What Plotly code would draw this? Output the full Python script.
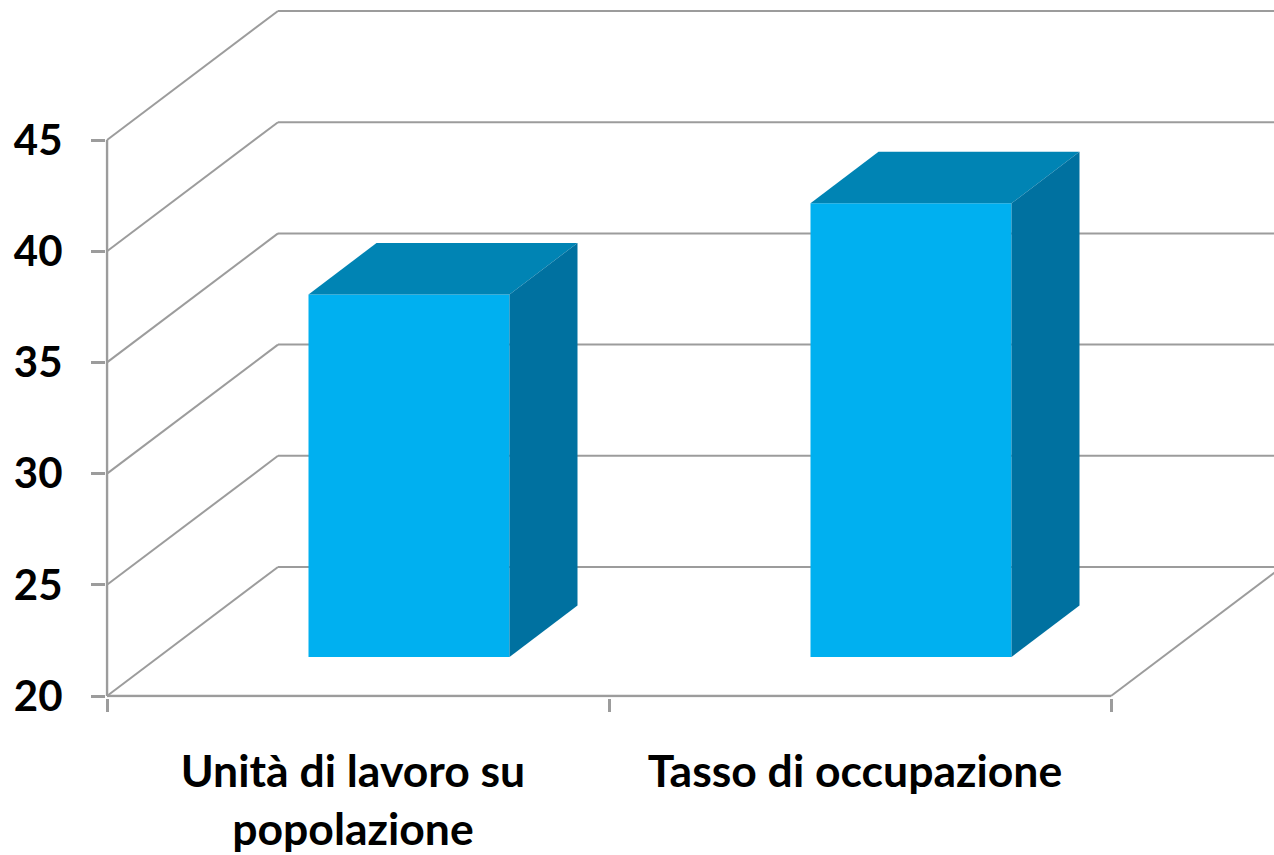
import plotly.graph_objects as go

categories = ["Unità di lavoro su<br>popolazione", "Tasso di occupazione"]
values = [36.3, 40.4]
y_ticks = [20, 25, 30, 35, 40, 45]

W, H = 1274, 855
PX_X = 502.0           # pixels per category
PX_Y = 111.2 / 5       # pixels per value unit
X0, Y0 = 107, 696      # pixel position of the axes corner
PAD = 1.5              # room so the axis lines are not clipped

def dx(px): return px / PX_X
def dy(px): return px / PX_Y

FLOOR_X, FLOOR_Y = dx(171), dy(129)
FX, FY = dx(51), dy(39)
DX, DY = dx(68), dy(51.5)
BAR_W = dx(201)
GRID = "#9c9c9c"
FRONT, TOP, SIDE = "#00b0f0", "#0084b4", "#0071a0"

x_max = (W - X0) / PX_X
y_max = 20 + Y0 / PX_Y

fig = go.Figure()

shapes = [
    dict(type="line", xref="x", yref="y", layer="below",
         x0=0, y0=y_ticks[0], x1=0, y1=y_ticks[-1], line=dict(color=GRID, width=2.5)),
    dict(type="line", xref="x", yref="y", layer="below",
         x0=0, y0=y_ticks[0], x1=len(categories), y1=y_ticks[0], line=dict(color=GRID, width=2.5)),
]
for v in y_ticks:
    shapes.append(dict(type="line", xref="x", yref="y", layer="below",
                       x0=0, y0=v, x1=FLOOR_X, y1=v + FLOOR_Y,
                       line=dict(color=GRID, width=2)))
    shapes.append(dict(type="line", xref="x", yref="y", layer="below",
                       x0=FLOOR_X, y0=v + FLOOR_Y, x1=x_max, y1=v + FLOOR_Y,
                       line=dict(color=GRID, width=2)))
shapes.append(dict(type="line", xref="x", yref="y", layer="below",
                   x0=len(categories), y0=20,
                   x1=len(categories) + FLOOR_X, y1=20 + FLOOR_Y,
                   line=dict(color=GRID, width=2)))

centers = [i + 0.5 + FX for i in range(len(values))]
base = 20 + FY

fig.add_trace(go.Bar(x=centers, y=[v - 20 for v in values], base=base, width=BAR_W,
                     marker=dict(color=FRONT, line=dict(width=0)),
                     hoverinfo="skip", showlegend=False))

for c, v in zip(centers, values):
    l, r = c - BAR_W / 2, c + BAR_W / 2
    t = base + v - 20
    fig.add_trace(go.Scatter(x=[l, r, r + DX, l + DX, l], y=[t, t, t + DY, t + DY, t],
                             mode="lines", fill="toself", fillcolor=TOP,
                             line=dict(width=0), hoverinfo="skip", showlegend=False))
    fig.add_trace(go.Scatter(x=[r, r + DX, r + DX, r, r],
                             y=[base, base + DY, t + DY, t, base],
                             mode="lines", fill="toself", fillcolor=SIDE,
                             line=dict(width=0), hoverinfo="skip", showlegend=False))

Y_FONT = dict(family="Lato, sans-serif", size=42, color="black", weight="bold")
X_FONT = dict(family="Lato, sans-serif", size=44.5, color="black", weight="bold")

fig.update_layout(
    width=W, height=H, margin=dict(l=0, r=0, t=0, b=0, pad=0),
    paper_bgcolor="white", plot_bgcolor="white", showlegend=False,
    shapes=shapes,
    xaxis=dict(domain=[(X0 - PAD) / W, 1], range=[-dx(PAD), x_max], tickmode="array",
               automargin=False,
               tickvals=[i + 0.49 for i in range(len(categories))], ticktext=categories,
               ticks="", showgrid=False, zeroline=False, showline=False,
               tickfont=X_FONT, ticklabelstandoff=44,
               minor=dict(tickmode="array", tickvals=list(range(len(categories) + 1)),
                          ticks="outside", ticklen=13.5, tickwidth=2.5, tickcolor=GRID,
                          showgrid=False)),
    yaxis=dict(domain=[(H - Y0 - PAD) / H, 1], range=[20 - dy(PAD), y_max], tickmode="array",
               automargin=False,
               tickvals=y_ticks, ticktext=[str(v) for v in y_ticks],
               ticks="outside", ticklen=13.5, tickwidth=2.5, tickcolor=GRID,
               showgrid=False, zeroline=False, showline=False,
               tickfont=Y_FONT, ticklabelstandoff=20),
)

fig.write_html("out.html", config=dict(displayModeBar=False),
               post_script="document.body.style.margin='0';document.body.style.overflow='hidden';")
